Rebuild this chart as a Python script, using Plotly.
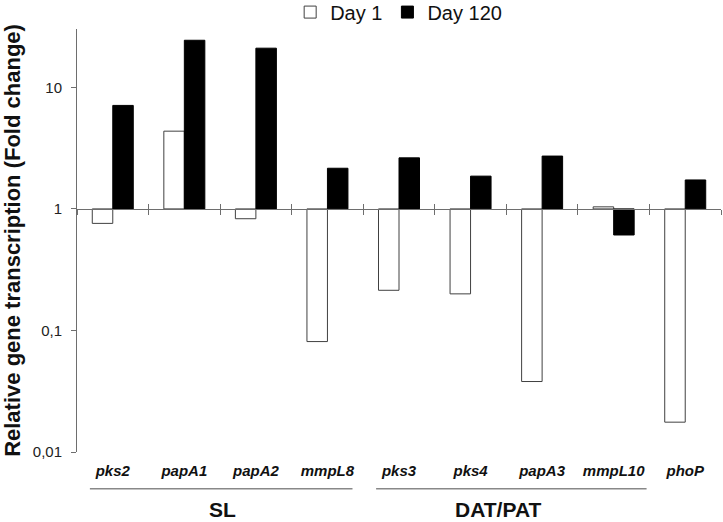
import plotly.graph_objects as go
import math

genes = ["pks2", "papA1", "papA2", "mmpL8", "pks3", "pks4", "papA3", "mmpL10", "phoP"]
day1 = [0.76, 4.36, 0.83, 0.081, 0.214, 0.20, 0.038, 1.04, 0.0176]
day120 = [7.1, 24.4, 21.0, 2.16, 2.63, 1.86, 2.72, 0.61, 1.73]
ytick_vals = [0.01, 0.1, 1, 10]
ytick_text = ["0,01", "0,1", "1", "10"]
groups = ["SL", "DAT/PAT"]

BASE = 1.0
YMIN, YMAX = -2.0, 1.48
FONT = "Liberation Sans, Arial, sans-serif"
AXC = "#6e6e6e"

fig = go.Figure()
fig.add_trace(go.Bar(
    name="Day 1", x=genes, y=[v - BASE for v in day1], base=BASE,
    marker=dict(color="white", line=dict(color="#404040", width=1)),
))
fig.add_trace(go.Bar(
    name="Day 120", x=genes, y=[v - BASE for v in day120], base=BASE,
    marker=dict(color="black", line=dict(color="black", width=1)),
))
# helper traces to register the overlay axes drawn at y = 1
fig.add_trace(go.Scatter(x=[None], y=[None], xaxis="x2", showlegend=False, hoverinfo="skip"))
fig.add_trace(go.Scatter(x=[None], y=[None], xaxis="x3", showlegend=False, hoverinfo="skip"))

pos1 = (math.log10(BASE) - YMIN) / (YMAX - YMIN)

fig.update_layout(
    width=723, height=522,
    margin=dict(l=77, r=2, t=29, b=70, autoexpand=False),
    paper_bgcolor="white", plot_bgcolor="white",
    barmode="group", bargap=0.427, bargroupgap=0,
    font=dict(family=FONT, color="#222"),
    legend=dict(orientation="h", x=0.331, xanchor="left", y=1.04, yanchor="middle",
                font=dict(size=20, color="#111"), itemwidth=30, bgcolor="rgba(0,0,0,0)",
                tracegroupgap=0),
    xaxis=dict(type="category", range=[-0.5, 8.5], showline=False, ticks="",
               tickvals=genes, ticktext=[f"<b><i>{g}</i></b>" for g in genes],
               tickfont=dict(size=15, color="#111"), ticklabelstandoff=8),
    xaxis2=dict(overlaying="x", anchor="free", position=pos1, range=[0, 9],
                tickvals=list(range(10)), showticklabels=False, ticks="outside",
                ticklen=5, tickcolor=AXC, showline=True, linecolor=AXC, linewidth=1,
                showgrid=False, zeroline=False),
    xaxis3=dict(overlaying="x", anchor="free", position=pos1, range=[0, 9],
                tickvals=list(range(10)), showticklabels=False, ticks="inside",
                ticklen=5, tickcolor=AXC, showline=False,
                showgrid=False, zeroline=False),
    yaxis=dict(type="log", range=[YMIN, YMAX], tickvals=ytick_vals, ticktext=ytick_text,
               showline=True, linecolor=AXC, linewidth=1, ticks="outside", ticklen=5,
               tickcolor=AXC, showgrid=False, zeroline=False, ticklabelstandoff=6,
               tickfont=dict(size=15, color="#222"),
               title=dict(text="<b>Relative gene transcription (Fold change)</b>",
                          font=dict(size=22, color="#111"), standoff=12)),
)

# group brackets and labels (in x2 units: category boundaries 0..9)
group_spans = [(0.18, 3.85), (4.18, 7.96)]
label_pos = [2.03, 5.88]
for (x0, x1), xl, label in zip(group_spans, label_pos, groups):
    fig.add_shape(type="line", xref="x2", yref="paper", x0=x0, x1=x1,
                  y0=-0.087, y1=-0.087, line=dict(color="#888", width=1.5))
    fig.add_annotation(text=f"<b>{label}</b>", xref="x2", yref="paper",
                       x=xl, y=-0.136, showarrow=False,
                       font=dict(size=21, color="#111"),
                       xanchor="center", yanchor="middle")

fig.write_html("out.html", config={"displayModeBar": False},
               post_script="document.body.style.margin='0';document.body.style.overflow='hidden';")
